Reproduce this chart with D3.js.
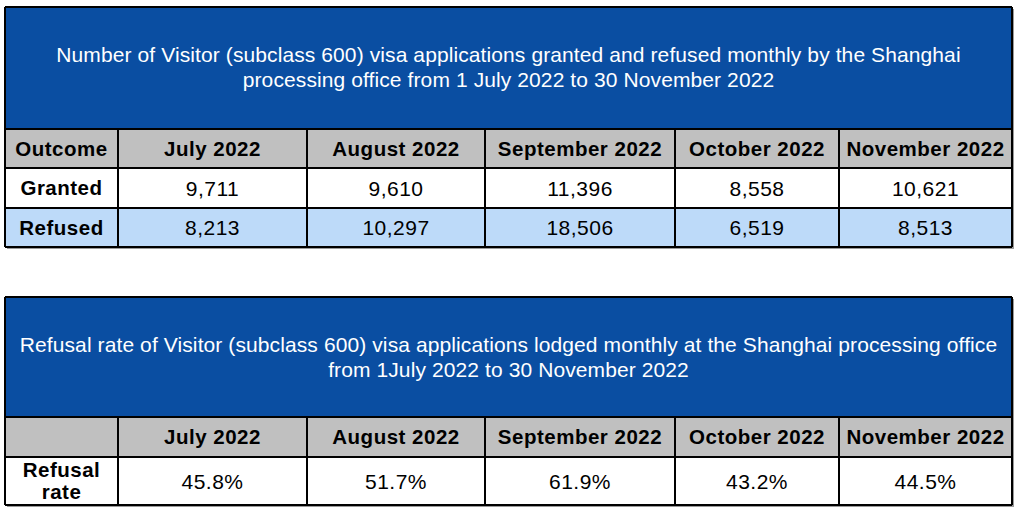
<!DOCTYPE html>
<html><head><meta charset="utf-8">
<script src="https://cdn.jsdelivr.net/npm/d3@7/dist/d3.min.js"></script>
<style>
html,body{margin:0;padding:0;background:#fff;}
svg{display:block;font-family:"Liberation Sans",Arial,sans-serif;}
</style></head>
<body><svg id="c" width="1024" height="514"></svg>
<script>
// ---- data ----
const months = ["July 2022","August 2022","September 2022","October 2022","November 2022"];
const granted = [9711, 9610, 11396, 8558, 10621];
const refused = [8213, 10297, 18506, 6519, 8513];
const refusalRate = [45.8, 51.7, 61.9, 43.2, 44.5];
const title1 = ["Number of Visitor (subclass 600) visa applications granted and refused monthly by the Shanghai",
                "processing office from 1 July 2022 to 30 November 2022"];
const title2 = ["Refusal rate of Visitor (subclass 600) visa applications lodged monthly at the Shanghai processing office",
                "from 1July 2022 to 30 November 2022"];
const rowLabels1 = ["Outcome","Granted","Refused"];
const rowLabels2 = ["", ["Refusal","rate"]];

// ---- layout ----
const svg = d3.select("#c");
const colEdges = [5, 118, 307, 485, 675, 839, 1012];
const colIndex = d3.range(colEdges.length);
const xEdge = d3.scaleOrdinal().domain(colIndex).range(colEdges);
const BLUE = "#0A4EA2", GRAY = "#C0C0C0", LIGHT = "#BDDAF9";
const fmt = d3.format(",");

function drawTable(top, titleBottom, rowEdges, rowFills, titleLines, titleYs, cells) {
  const g = svg.append("g");
  const L = colEdges[0], R = colEdges[colEdges.length-1], B = rowEdges[rowEdges.length-1];
  g.append("rect").attr("x", L+2).attr("y", top+2).attr("width", R-L).attr("height", B-top).attr("fill", "#9a9a9a");
  g.append("rect").attr("x", L).attr("y", top).attr("width", R-L).attr("height", titleBottom-top).attr("fill", BLUE);
  g.selectAll("text.t").data(titleLines).join("text")
    .attr("x", (L+R)/2).attr("y", (d,i)=>titleYs[i]).attr("text-anchor","middle")
    .attr("fill","#fff").attr("font-size",21).attr("letter-spacing","0.1px").text(d=>d);
  for (let r=0; r<rowEdges.length-1; r++) {
    for (let c=0; c<colEdges.length-1; c++) {
      const x0 = xEdge(c), x1 = xEdge(c+1);
      g.append("rect").attr("x", x0).attr("y", rowEdges[r]).attr("width", x1-x0).attr("height", rowEdges[r+1]-rowEdges[r])
        .attr("fill", rowFills[r]);
      const cell = cells[r][c];
      const bold = r===0 || c===0;
      const lines = Array.isArray(cell) ? cell : [cell];
      const cy = (rowEdges[r]+rowEdges[r+1])/2;
      const lh = 22;
      lines.forEach((ln,k)=>{
        g.append("text").attr("x",(x0+x1)/2).attr("y", cy + (k-(lines.length-1)/2)*lh)
          .attr("dy","0.36em").attr("text-anchor","middle")
          .attr("font-size",bold?20.5:21).attr("font-weight", bold?"bold":"normal")
          .attr("letter-spacing", bold?"0.5px":"0.5px")
          .attr("fill","#000").text(ln);
      });
    }
  }
  const lw = 2;
  rowEdges.forEach(y=>g.append("line").attr("x1",L).attr("x2",R).attr("y1",y).attr("y2",y).attr("stroke","#000").attr("stroke-width",lw));
  colEdges.forEach((x,i)=>g.append("line").attr("x1",x).attr("x2",x)
     .attr("y1",(i===0||i===colEdges.length-1)?top:rowEdges[0]).attr("y2",B).attr("stroke","#000").attr("stroke-width",lw));
  g.append("line").attr("x1",L).attr("x2",R).attr("y1",top).attr("y2",top).attr("stroke","#000").attr("stroke-width",lw);
}

drawTable(7, 129, [129,168,208,247], [GRAY,"#fff",LIGHT], title1, [62,87],
  [[rowLabels1[0], ...months],
   [rowLabels1[1], ...granted.map(fmt)],
   [rowLabels1[2], ...refused.map(fmt)]]);

drawTable(297, 417, [417,457,505], [GRAY,"#fff"], title2, [352,377],
  [[rowLabels2[0], ...months],
   [rowLabels2[1], ...refusalRate.map(v=>v.toFixed(1)+"%")]]);
</script></body></html>
